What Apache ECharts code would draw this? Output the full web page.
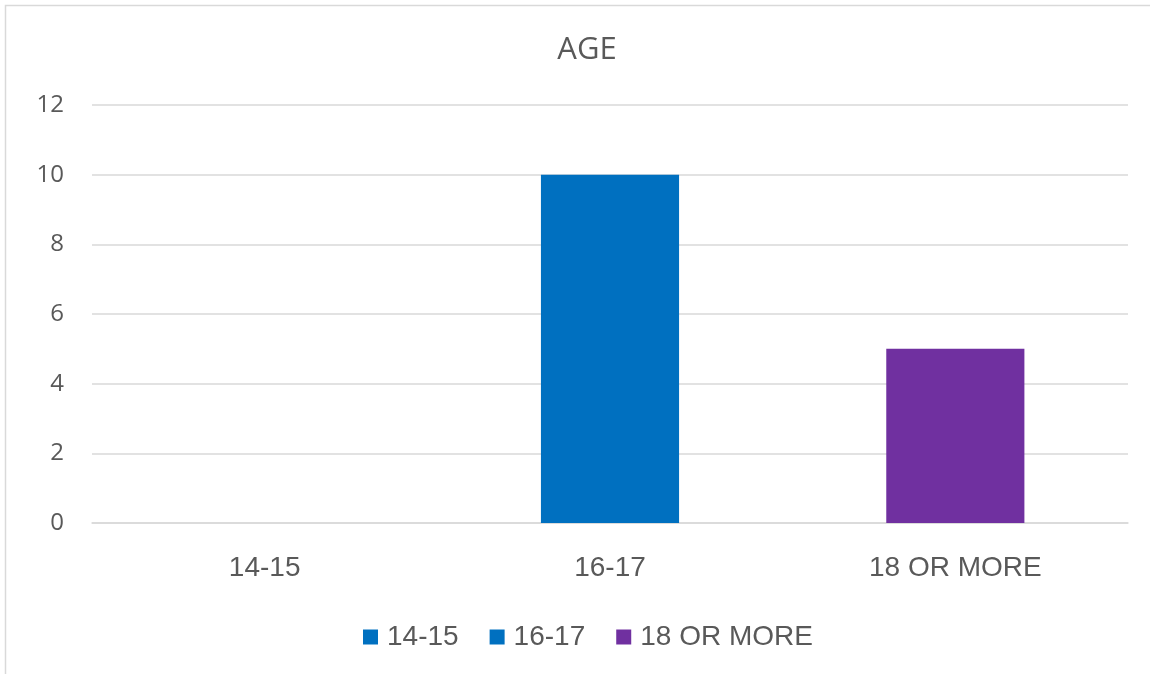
<!DOCTYPE html>
<html>
<head>
<meta charset="utf-8">
<script src="https://cdn.jsdelivr.net/npm/echarts@6/dist/echarts.min.js"></script>
<style>
  html, body { margin: 0; padding: 0; background: #ffffff; }
  #chart { width: 1150px; height: 674px; }
</style>
</head>
<body>
<div id="chart"></div>
<script>
// Age groups and respondent counts
const categories = ['14-15', '16-17', '18 OR MORE'];
const counts = [0, 10, 5];
const colors = ['#0070C0', '#0070C0', '#7030A0'];
const yTicks = { min: 0, max: 12, interval: 2 };

// One series per age group so each gets its own legend entry;
// stacking keeps every bar centred on its category.
const series = categories.map((name, i) => ({
  name: name,
  type: 'bar',
  stack: 'age',
  barWidth: '40%',
  itemStyle: { color: colors[i] },
  data: categories.map((_, j) => (j === i ? counts[i] : '-'))
}));

const chart = echarts.init(document.getElementById('chart'), null, { renderer: 'canvas' });
chart.setOption({
  backgroundColor: '#ffffff',
  animation: false,
  graphic: [{
    type: 'rect',
    shape: { x: 5.5, y: 5.5, width: 1200, height: 700 },
    style: { fill: 'none', stroke: '#d9d9d9', lineWidth: 1.5 },
    silent: true
  }],
  title: {
    text: 'AGE',
    left: 582,
    top: 30,
    textAlign: 'center',
    textStyle: { fontFamily: 'Open Sans', fontSize: 31, fontWeight: 'normal', color: '#595959' }
  },
  grid: { left: 92, right: 22, top: 105, bottom: 151, containLabel: false },
  legend: {
    bottom: 18,
    left: 358,
    icon: 'rect',
    itemWidth: 15,
    itemHeight: 15,
    itemGap: 31,
    textStyle: { fontFamily: 'Liberation Sans', fontSize: 28, color: '#595959', padding: [0, 0, 0, 4] },
    data: categories
  },
  xAxis: {
    type: 'category',
    data: categories,
    axisLine: { show: true, lineStyle: { color: '#d9d9d9', width: 1.5 } },
    axisTick: { show: false },
    axisLabel: { fontFamily: 'Liberation Sans', fontSize: 28, color: '#595959', margin: 31 }
  },
  yAxis: {
    type: 'value',
    min: yTicks.min,
    max: yTicks.max,
    interval: yTicks.interval,
    axisLine: { show: false },
    axisTick: { show: false },
    splitLine: { lineStyle: { color: '#d9d9d9', width: 1.5 } },
    axisLabel: { fontFamily: 'Open Sans', fontSize: 24, color: '#595959', margin: 28 }
  },
  series: series
});
</script>
</body>
</html>
